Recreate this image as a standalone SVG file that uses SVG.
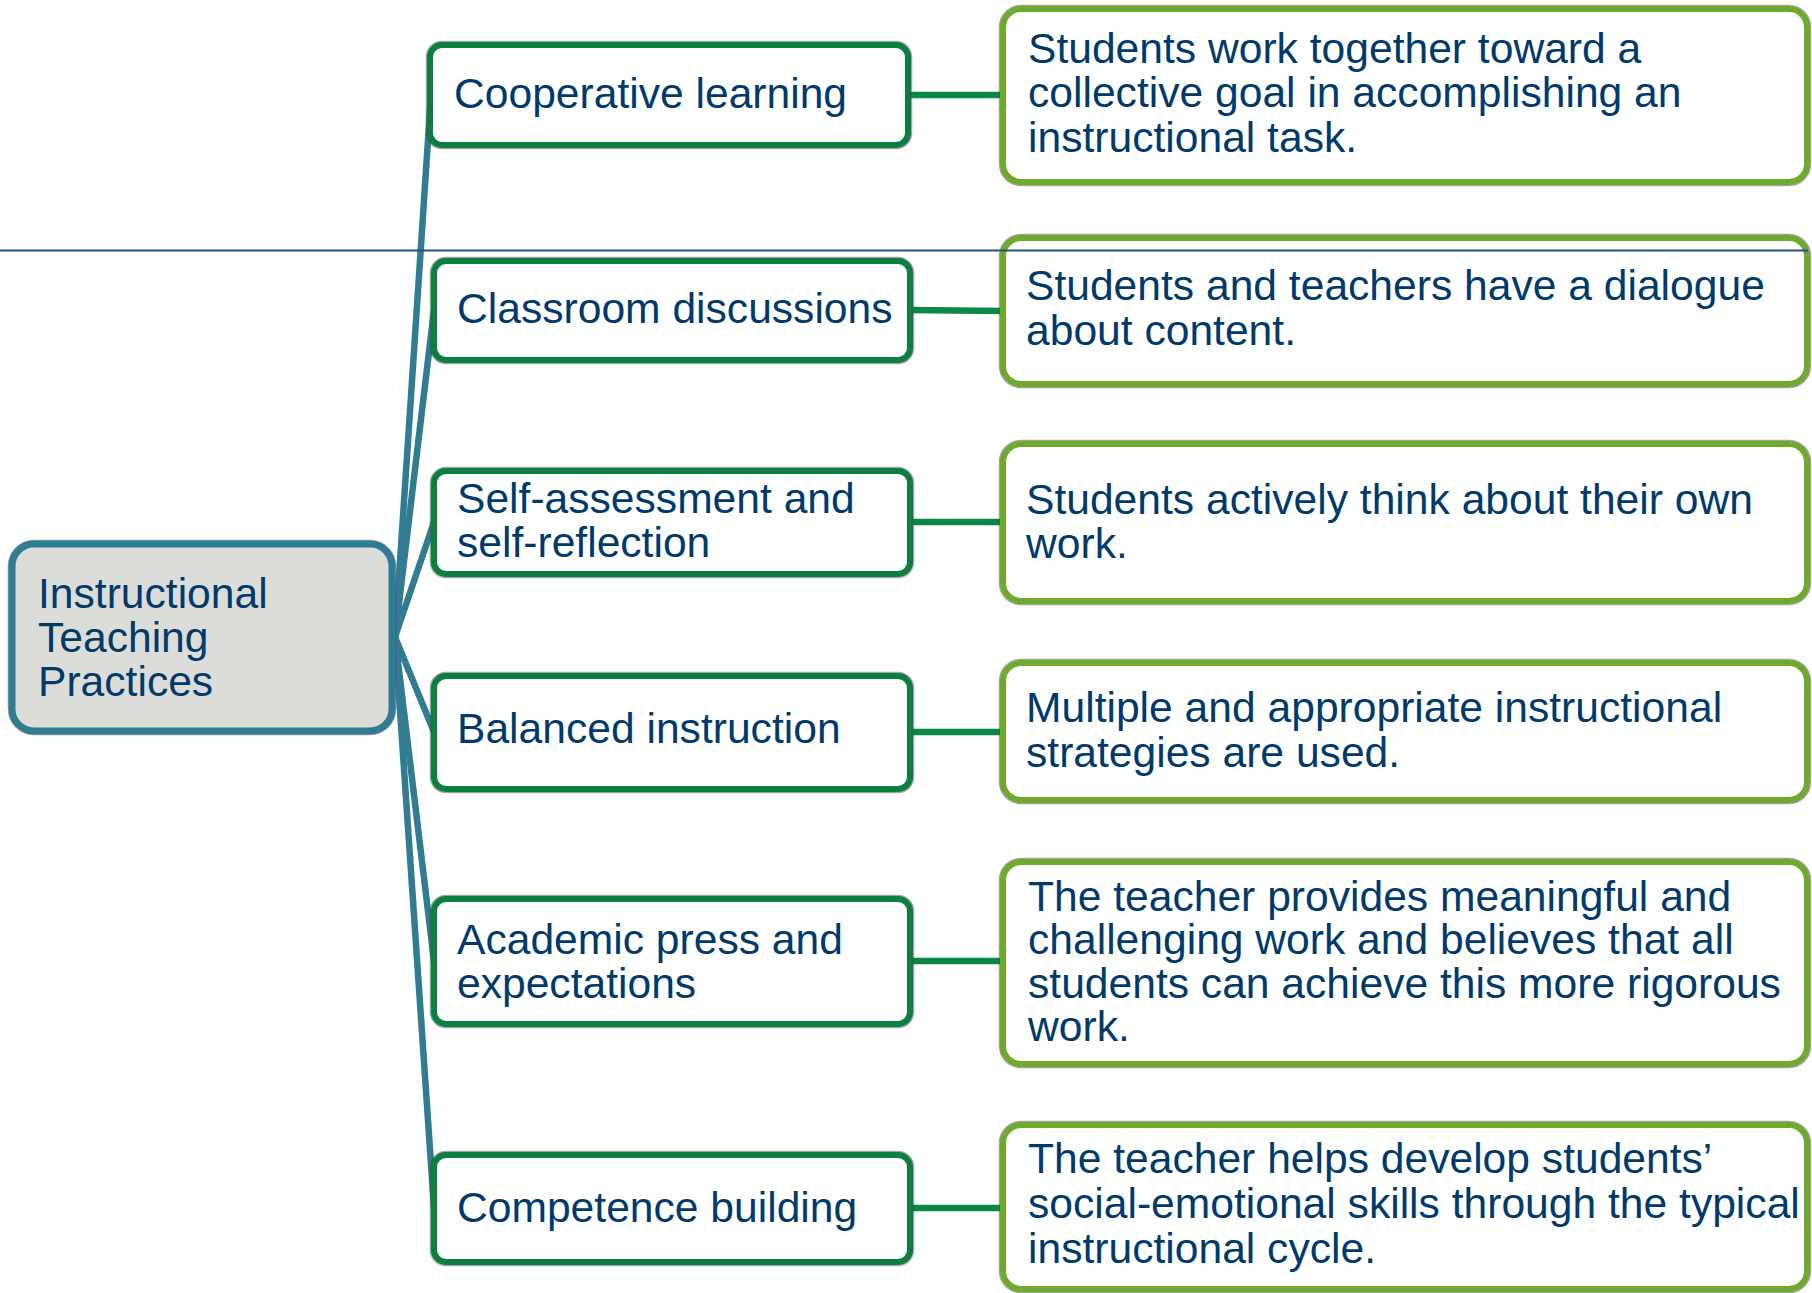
<svg xmlns="http://www.w3.org/2000/svg" width="1812" height="1293" viewBox="0 0 1812 1293">
<style>
.t{font-family:"Liberation Sans",Arial,sans-serif;font-size:42.6px;fill:#003a6b}
.root{fill:#dcddd9;stroke:#317c92;stroke-width:7}
.mid{fill:#ffffff;stroke:#0b7f3f;stroke-width:6}
.det{fill:#ffffff;stroke:#6eaa2c;stroke-width:6}
.sh{fill:none;stroke:#4a4a4a;stroke-width:8.5;opacity:0.5}
.c1{stroke:#317c92;stroke-width:6.5;fill:none}
.c2{stroke:#0d8744;stroke-width:6.5;fill:none}
</style>
<rect width="1812" height="1293" fill="#ffffff"/>
<g id="connectors">
<line class="c1" x1="395" y1="637" x2="431" y2="95"/>
<line class="c1" x1="395" y1="637" x2="434" y2="310"/>
<line class="c1" x1="395" y1="637" x2="434" y2="522"/>
<line class="c1" x1="395" y1="637" x2="434" y2="732"/>
<line class="c1" x1="395" y1="637" x2="434" y2="961"/>
<line class="c1" x1="395" y1="637" x2="434" y2="1208"/>
<line class="c2" x1="908" y1="95" x2="1003" y2="95"/>
<line class="c2" x1="910" y1="310" x2="1003" y2="311"/>
<line class="c2" x1="910" y1="522" x2="1003" y2="522"/>
<line class="c2" x1="910" y1="732" x2="1003" y2="732"/>
<line class="c2" x1="910" y1="961" x2="1003" y2="961"/>
<line class="c2" x1="910" y1="1208" x2="1003" y2="1208"/>
</g>
<g id="root">
<rect class="sh" x="12" y="544" width="380" height="187" rx="22"/>
<rect class="root" x="12" y="544" width="380" height="187" rx="22"/>
<text class="t" x="38"><tspan x="38" y="608">Instructional</tspan><tspan x="38" y="652">Teaching</tspan><tspan x="38" y="696">Practices</tspan></text>
</g>
<g id="n1">
<rect class="sh" x="430" y="45" width="478" height="100" rx="12"/>
<rect class="mid" x="430" y="45" width="478" height="100" rx="12"/>
<text class="t" x="454" y="108">Cooperative learning</text>
</g>
<g id="n2">
<rect class="sh" x="434" y="261" width="476" height="99" rx="12"/>
<rect class="mid" x="434" y="261" width="476" height="99" rx="12"/>
<text class="t" x="457" y="323">Classroom discussions</text>
</g>
<g id="n3">
<rect class="sh" x="434" y="471" width="476" height="103" rx="12"/>
<rect class="mid" x="434" y="471" width="476" height="103" rx="12"/>
<text class="t"><tspan x="457" y="513">Self-assessment and</tspan><tspan x="457" y="557">self-reflection</tspan></text>
</g>
<g id="n4">
<rect class="sh" x="434" y="676" width="476" height="113" rx="12"/>
<rect class="mid" x="434" y="676" width="476" height="113" rx="12"/>
<text class="t" x="457" y="743">Balanced instruction</text>
</g>
<g id="n5">
<rect class="sh" x="434" y="899" width="476" height="125" rx="12"/>
<rect class="mid" x="434" y="899" width="476" height="125" rx="12"/>
<text class="t"><tspan x="457" y="954">Academic press and</tspan><tspan x="457" y="998">expectations</tspan></text>
</g>
<g id="n6">
<rect class="sh" x="434" y="1155" width="476" height="107" rx="12"/>
<rect class="mid" x="434" y="1155" width="476" height="107" rx="12"/>
<text class="t" x="457" y="1222">Competence building</text>
</g>
<g id="d1">
<rect class="sh" x="1003" y="9" width="804" height="173" rx="18"/>
<rect class="det" x="1003" y="9" width="804" height="173" rx="18"/>
<text class="t"><tspan x="1028" y="63">Students work together toward a</tspan><tspan x="1028" y="107">collective goal in accomplishing an</tspan><tspan x="1028" y="152">instructional task.</tspan></text>
</g>
<g id="d2">
<rect class="sh" x="1003" y="238" width="804" height="146" rx="18"/>
<rect class="det" x="1003" y="238" width="804" height="146" rx="18"/>
<text class="t"><tspan x="1026" y="300">Students and teachers have a dialogue</tspan><tspan x="1026" y="345">about content.</tspan></text>
</g>
<g id="d3">
<rect class="sh" x="1003" y="444" width="804" height="157" rx="18"/>
<rect class="det" x="1003" y="444" width="804" height="157" rx="18"/>
<text class="t"><tspan x="1026" y="514">Students actively think about their own</tspan><tspan x="1026" y="558">work.</tspan></text>
</g>
<g id="d4">
<rect class="sh" x="1003" y="663" width="804" height="137" rx="18"/>
<rect class="det" x="1003" y="663" width="804" height="137" rx="18"/>
<text class="t"><tspan x="1026" y="722">Multiple and appropriate instructional</tspan><tspan x="1026" y="767">strategies are used.</tspan></text>
</g>
<g id="d5">
<rect class="sh" x="1003" y="862" width="804" height="202" rx="18"/>
<rect class="det" x="1003" y="862" width="804" height="202" rx="18"/>
<text class="t"><tspan x="1028" y="911">The teacher provides meaningful and</tspan><tspan x="1028" y="954">challenging work and believes that all</tspan><tspan x="1028" y="998">students can achieve this more rigorous</tspan><tspan x="1028" y="1041">work.</tspan></text>
</g>
<g id="d6">
<rect class="sh" x="1003" y="1125" width="804" height="164" rx="18"/>
<rect class="det" x="1003" y="1125" width="804" height="164" rx="18"/>
<text class="t"><tspan x="1028" y="1173">The teacher helps develop students’</tspan><tspan x="1028" y="1218">social-emotional skills through the typical</tspan><tspan x="1028" y="1263">instructional cycle.</tspan></text>
</g>
<line id="rule" x1="0" y1="250.5" x2="1808" y2="250.5" stroke="#27507a" stroke-width="2"/>
</svg>
